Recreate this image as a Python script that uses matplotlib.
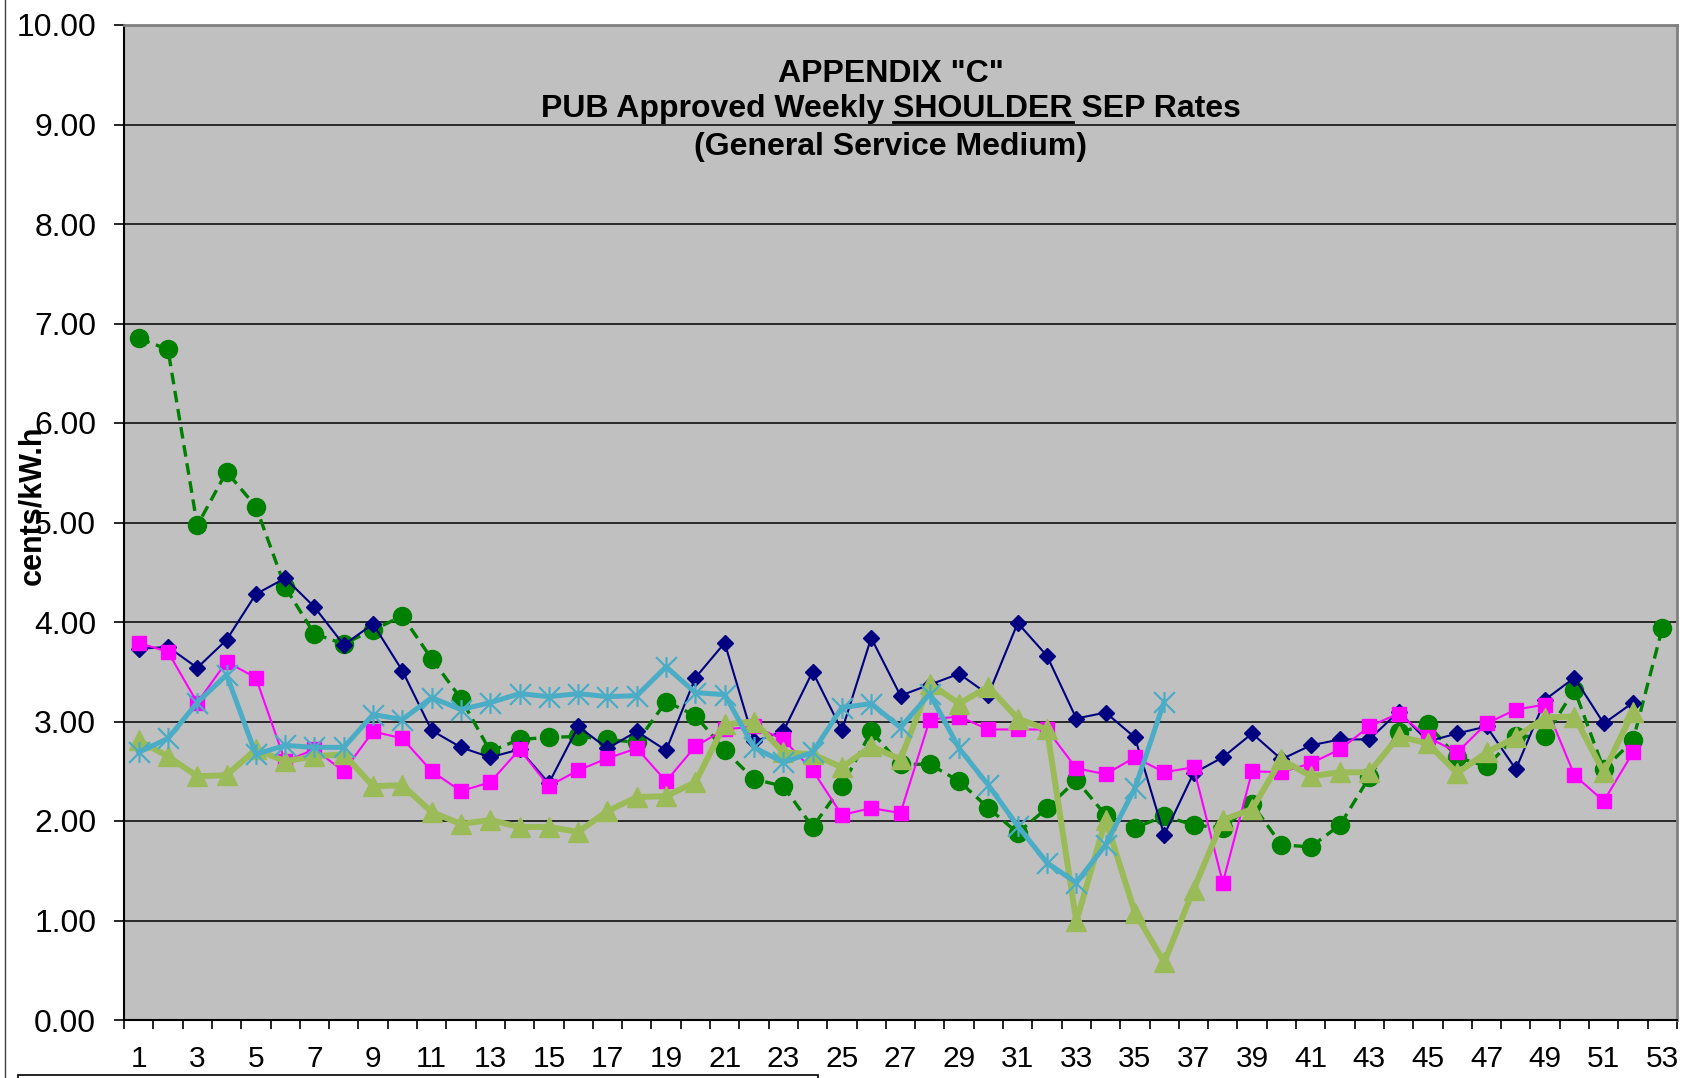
import matplotlib
matplotlib.use('Agg')
import matplotlib.pyplot as plt
from matplotlib.path import Path
from matplotlib.patches import Rectangle
from matplotlib.lines import Line2D
import numpy as np

plt.rcParams['font.family'] = ['Liberation Sans', 'DejaVu Sans']

# weekly shoulder SEP rates, cents/kW.h
weeks = list(range(1, 54))

green = [6.85, 6.74, 4.97, 5.51, 5.16, 4.35, 3.88, 3.78, 3.92, 4.06,
         3.63, 3.23, 2.70, 2.82, 2.84, 2.85, 2.82, 2.79, 3.20, 3.06,
         2.71, 2.42, 2.35, 1.94, 2.35, 2.90, 2.57, 2.57, 2.40, 2.13,
         1.88, 2.13, 2.41, 2.06, 1.93, 2.05, 1.96, 1.93, 2.17, 1.76,
         1.74, 1.96, 2.44, 2.89, 2.97, 2.64, 2.55, 2.85, 2.85, 3.32,
         2.52, 2.81, 3.94]

navy = [3.73, 3.75, 3.54, 3.82, 4.28, 4.44, 4.15, 3.77, 3.98, 3.51,
        2.91, 2.74, 2.64, 2.72, 2.38, 2.95, 2.73, 2.90, 2.71, 3.44,
        3.79, 2.80, 2.90, 3.50, 2.91, 3.84, 3.26, 3.37, 3.48, 3.27,
        3.99, 3.66, 3.03, 3.09, 2.84, 1.86, 2.48, 2.64, 2.88, 2.62,
        2.76, 2.82, 2.82, 3.10, 2.80, 2.88, 2.95, 2.52, 3.22, 3.44,
        2.98, 3.19]

magenta = [3.79, 3.70, 3.19, 3.60, 3.44, 2.60, 2.72, 2.50, 2.90, 2.83,
           2.50, 2.30, 2.39, 2.72, 2.35, 2.51, 2.63, 2.73, 2.40, 2.75,
           2.92, 2.95, 2.82, 2.51, 2.06, 2.13, 2.08, 3.02, 3.05, 2.92,
           2.92, 2.92, 2.53, 2.47, 2.64, 2.49, 2.54, 1.38, 2.50, 2.49,
           2.58, 2.72, 2.95, 3.08, 2.84, 2.69, 2.98, 3.12, 3.17, 2.46,
           2.20, 2.69]

olive = [2.81, 2.65, 2.45, 2.46, 2.72, 2.60, 2.65, 2.67, 2.35, 2.36,
         2.09, 1.97, 2.01, 1.94, 1.94, 1.89, 2.10, 2.24, 2.25, 2.39,
         2.97, 3.00, 2.69, 2.67, 2.54, 2.75, 2.62, 3.38, 3.18, 3.35,
         3.03, 2.92, 0.99, 2.01, 1.08, 0.58, 1.31, 2.01, 2.12, 2.62,
         2.45, 2.49, 2.49, 2.85, 2.78, 2.48, 2.69, 2.84, 3.04, 3.05,
         2.49, 3.10]

lightblue = [2.69, 2.83, 3.19, 3.47, 2.67, 2.76, 2.74, 2.74, 3.07, 3.02,
             3.24, 3.12, 3.19, 3.28, 3.25, 3.28, 3.25, 3.26, 3.55, 3.29,
             3.27, 2.74, 2.59, 2.69, 3.14, 3.18, 2.94, 3.28, 2.73, 2.36,
             1.95, 1.58, 1.38, 1.76, 2.33, 3.20]

title_lines = ['APPENDIX "C"', 'PUB Approved Weekly SHOULDER SEP Rates',
               '(General Service Medium)']

# excel style star: X with a vertical bar
star = Path([(0, -1), (0, 1), (-1, -1), (1, 1), (-1, 1), (1, -1)],
            [Path.MOVETO, Path.LINETO] * 3)

W, H = 1691, 1078
fig = plt.figure(figsize=(W / 100, H / 100), dpi=100)
ax = fig.add_axes([124 / W, 1 - 1020 / H, 1553 / W, 995 / H])
ax.set_facecolor('#C0C0C0')

ax.plot(weeks[:len(green)], green, color='#008000', lw=2.4,
        linestyle=(0, (3.5, 2)), marker='o', ms=13, mec='#008000')
ax.plot(weeks[:len(navy)], navy, color='#000080', lw=1.5,
        marker='D', ms=8.5, mec='#000080')
ax.plot(weeks[:len(magenta)], magenta, color='#FF00FF', lw=1.5,
        marker='s', ms=10.5, mec='#FF00FF')
ax.plot(weeks[:len(olive)], olive, color='#9BBB59', lw=4.3,
        marker='^', ms=15, mec='#9BBB59')
ax.plot(weeks[:len(lightblue)], lightblue, color='#4BACC6', lw=3.6,
        marker=star, ms=15, mec='#4BACC6', mew=1.6, mfc='none')

ax.set_xlim(0.5, 53.5)
ax.set_ylim(0, 10)
ax.set_yticks(np.arange(0, 11, 1))
ax.set_yticklabels(['%.2f' % v for v in range(11)])
ax.set_xticks(weeks[::2])
ax.set_xticks(np.arange(0.5, 54, 1), minor=True)
ax.tick_params(axis='y', labelsize=23, length=7, width=1.2, pad=13)
ax.tick_params(axis='x', which='major', labelsize=21.5, length=0, pad=18)
ax.tick_params(axis='x', which='minor', length=6.5, width=1.2, direction='out')

ax.yaxis.grid(True, color='black', lw=1.1)
ax.set_axisbelow(True)
for s in ['left', 'bottom']:
    ax.spines[s].set_color('black')
    ax.spines[s].set_linewidth(1.5)
for s in ['top', 'right']:
    ax.spines[s].set_color('#808080')
    ax.spines[s].set_linewidth(2)

fig.text(32 / W, 1 - 505 / H, 'cents/kW.h', rotation=90, fontsize=22,
         fontweight='bold', ha='center', va='center')

# title, three lines, SHOULDER underlined
tsize = 23
cx = 891 / W
for line, base in zip(title_lines, [82, 117, 155]):
    fig.text(cx, 1 - base / H, line, fontsize=tsize, fontweight='bold',
             ha='center', va='baseline')

r = fig.canvas.get_renderer()
def width_of(s):
    t = fig.text(0, 0, s, fontsize=tsize, fontweight='bold')
    w = t.get_window_extent(renderer=r).width
    t.remove()
    return w

full = width_of(title_lines[1])
a = width_of('PUB Approved Weekly')
sh = width_of('SHOULDER')
rest = width_of('SEP Rates')
gap = (full - a - sh - rest) / 2
x0 = 891 - full / 2 + a + gap
fig.add_artist(Line2D([x0 / W, (x0 + sh) / W], [1 - 121.5 / H] * 2,
                      color='black', lw=2, transform=fig.transFigure))

# chart area border on the left and top of the cut-off legend box
fig.add_artist(Line2D([5 / W, 5 / W], [0, 1], color='#404040', lw=1,
                      transform=fig.transFigure))
fig.add_artist(Rectangle((18 / W, -0.05), 800 / W, 0.05 + 3 / H,
                         transform=fig.transFigure, fill=False,
                         edgecolor='black', lw=1.2, clip_on=False))

fig.savefig('out.png', dpi=100)
